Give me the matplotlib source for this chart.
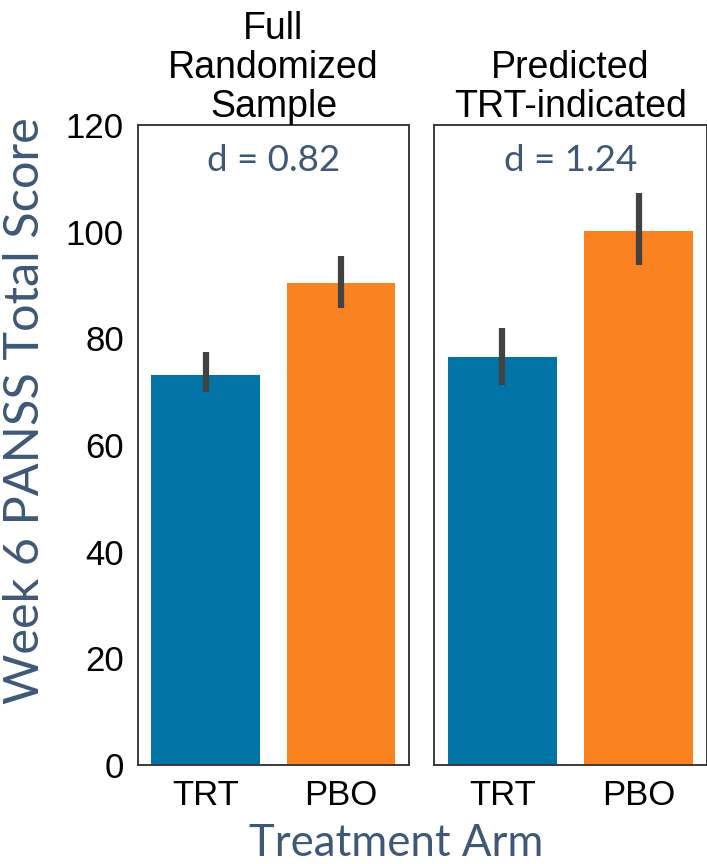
import matplotlib
matplotlib.use('Agg')
import matplotlib.pyplot as plt
import numpy as np

# values
arms = ['TRT', 'PBO']
panel_titles = ['Full\nRandomized\nSample', 'Predicted\nTRT-indicated']
effect_sizes = ['d = 0.82', 'd = 1.24']
means = [[73.1, 90.4], [76.5, 100.1]]
ci_low = [[69.9, 85.7], [71.3, 93.8]]
ci_high = [[77.4, 95.4], [81.9, 107.3]]

bar_colors = ['#0173a5', '#fa8220']
label_color = '#3e5875'

fig = plt.figure(figsize=(7.07, 8.64), dpi=100)
axes = [fig.add_axes([0.195, 0.1146, 0.3835, 0.7407]),
        fig.add_axes([0.614, 0.1146, 0.386, 0.7407])]

for i, ax in enumerate(axes):
    x = np.arange(len(arms))
    m = np.array(means[i])
    err = [m - np.array(ci_low[i]), np.array(ci_high[i]) - m]
    ax.bar(x, m, width=0.8, color=bar_colors)
    ax.errorbar(x, m, yerr=err, fmt='none', ecolor='#424242',
                elinewidth=4.5, capsize=0, solid_capstyle='round')
    ax.set_xlim(-0.5, 1.5)
    ax.set_ylim(0, 120)
    ax.set_xticks(x)
    ax.set_xticklabels(arms, fontsize=25, family='Liberation Sans')
    ax.set_yticks(np.arange(0, 121, 20))
    ax.tick_params(length=0, pad=10)
    for lab in ax.get_yticklabels():
        lab.set_fontsize(25)
        lab.set_family('Liberation Sans')
    if i > 0:
        ax.set_yticklabels([])
    for s in ax.spines.values():
        s.set_color('#3a3a3a')
        s.set_linewidth(1.4)
    ax.set_title(panel_titles[i], fontsize=27, family='Liberation Sans',
                 linespacing=1.1, pad=6)
    ax.text(0.5, 113.4, effect_sizes[i], ha='center', va='center',
            fontsize=26.5, family='Lato', color=label_color)

fig.text(0.035, 0.525, 'Week 6 PANSS Total Score', rotation=90,
         ha='center', va='center', fontsize=35, family='Lato',
         color=label_color)
fig.text(0.56, 0.024, 'Treatment Arm', ha='center', va='center',
         fontsize=31.5, family='Lato', color=label_color)

plt.savefig('out.png', dpi=100)
